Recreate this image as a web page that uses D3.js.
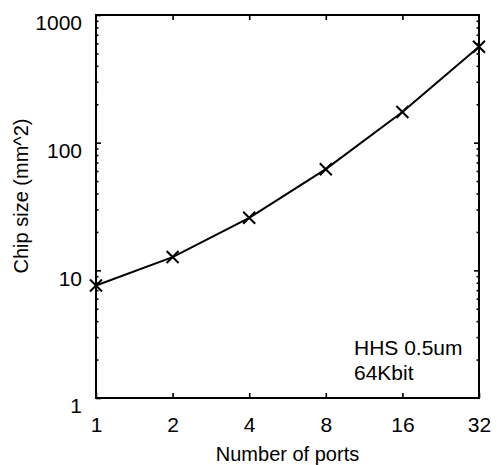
<!DOCTYPE html>
<html>
<head>
<meta charset="utf-8">
<script src="https://cdn.jsdelivr.net/npm/d3@7"></script>
<style>
  html, body { margin: 0; padding: 0; background: #fff; }
  svg { display: block; }
  text { font-family: "Liberation Sans", Arial, Helvetica, sans-serif; fill: #000; }
</style>
</head>
<body>
<svg id="chart" width="500" height="465"></svg>
<script>
// Chip size versus number of ports (HHS 0.5um, 64Kbit)
const ports = [1, 2, 4, 8, 16, 32];
const chipSize = [7.6, 12.7, 25.8, 62, 174, 564];
const xTickValues = [1, 2, 4, 8, 16, 32];
const yTickValues = [1, 10, 100, 1000];
const annotationLines = ["HHS 0.5um", "64Kbit"];

const svg = d3.select("#chart");
const margin = { left: 96, right: 21, top: 15, bottom: 67 };
const W = 500, H = 465;
const plotW = W - margin.left - margin.right;
const plotH = H - margin.top - margin.bottom;

const x = d3.scaleLog().base(2).domain([1, 32]).range([0, plotW]);
const y = d3.scaleLog().base(10).domain([1, 1000]).range([plotH, 0]);

const g = svg.append("g").attr("transform", `translate(${margin.left},${margin.top})`);

// log minor ticks on y
const yMinor = [];
[1, 10, 100].forEach(d => { for (let k = 2; k <= 9; k++) yMinor.push(d * k); });

function styleAxis(sel) {
  sel.select(".domain").remove();
  sel.selectAll(".tick line").attr("stroke", "#000").attr("stroke-width", 1.6);
}

// bottom axis with labels, ticks pointing inward
const xAxisB = g.append("g").attr("transform", `translate(0,${plotH})`)
  .call(d3.axisBottom(x).tickValues(xTickValues).tickFormat(d3.format("d")).tickSize(-5).tickPadding(20));
styleAxis(xAxisB);
xAxisB.selectAll("text").attr("font-size", 21).attr("dy", "0.71em").attr("y", 19);

// top axis ticks
const xAxisT = g.append("g")
  .call(d3.axisTop(x).tickValues(xTickValues.slice(1, -1)).tickFormat("").tickSize(-5));
styleAxis(xAxisT);

// left axis major with labels
const yAxisL = g.append("g")
  .call(d3.axisLeft(y).tickValues(yTickValues).tickFormat(d3.format("d")).tickSize(-5).tickPadding(14));
styleAxis(yAxisL);
yAxisL.selectAll("text").attr("font-size", 21).attr("x", -14).attr("dy", "0.9em").attr("y", -4);

const yAxisLm = g.append("g")
  .call(d3.axisLeft(y).tickValues(yMinor).tickFormat("").tickSize(-2.5));
styleAxis(yAxisLm);

// right axis
const yAxisR = g.append("g").attr("transform", `translate(${plotW},0)`)
  .call(d3.axisRight(y).tickValues(yTickValues.slice(1, -1)).tickFormat("").tickSize(-5));
styleAxis(yAxisR);
const yAxisRm = g.append("g").attr("transform", `translate(${plotW},0)`)
  .call(d3.axisRight(y).tickValues(yMinor).tickFormat("").tickSize(-2.5));
styleAxis(yAxisRm);

// plot frame
g.append("rect").attr("x", 0).attr("y", 0).attr("width", plotW).attr("height", plotH)
  .attr("fill", "none").attr("stroke", "#000").attr("stroke-width", 2);

// data line
const data = ports.map((p, i) => ({ p, v: chipSize[i] }));
g.append("path").datum(data)
  .attr("fill", "none").attr("stroke", "#000").attr("stroke-width", 2)
  .attr("d", d3.line().x(d => x(d.p)).y(d => y(d.v)));

// x markers
const s = 6;
g.selectAll(".mark").data(data).enter().append("path")
  .attr("class", "mark")
  .attr("transform", d => `translate(${x(d.p)},${y(d.v)})`)
  .attr("d", `M${-s},${-s}L${s},${s}M${-s},${s}L${s},${-s}`)
  .attr("stroke", "#000").attr("stroke-width", 2).attr("fill", "none");

// annotation
const ann = g.append("text").attr("font-size", 21)
  .attr("x", 258).attr("y", 340);
annotationLines.forEach((t, i) => {
  ann.append("tspan").attr("x", 258).attr("y", 340 + i * 25).text(t);
});

// axis titles
svg.append("text").attr("font-size", 20).attr("text-anchor", "middle")
  .attr("x", margin.left + plotW / 2).attr("y", 461)
  .text("Number of ports");
svg.append("text").attr("font-size", 20).attr("text-anchor", "middle")
  .attr("transform", `translate(28,196) rotate(-90)`)
  .text("Chip size (mm^2)");
</script>
</body>
</html>
